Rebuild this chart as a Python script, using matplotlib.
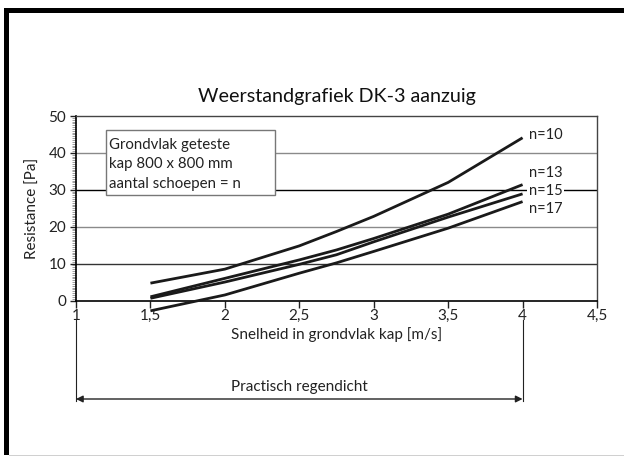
import matplotlib
matplotlib.use("Agg")
import matplotlib.pyplot as plt
from matplotlib.patches import Rectangle
from matplotlib.ticker import MultipleLocator

plt.rcParams['font.family'] = ['Lato', 'DejaVu Sans']

# Data
speed = [1.5, 2.0, 2.5, 2.75, 3.0, 3.5, 4.0]
n10 = [4.7, 8.5, 14.8, 18.7, 22.8, 32.0, 44.1]
n13 = [1.0, 6.0, 11.0, 13.7, 16.8, 23.4, 31.4]
n15 = [0.6, 5.0, 9.8, 12.4, 15.9, 22.6, 28.9]
n17 = [-2.8, 1.5, 7.4, 10.2, 13.3, 19.6, 26.8]
series = [("n=10", n10), ("n=13", n13), ("n=15", n15), ("n=17", n17)]
label_y = [44.8, 34.6, 29.7, 24.8]

x_ticks = [1, 1.5, 2, 2.5, 3, 3.5, 4, 4.5]
x_labels = ["1", "1,5", "2", "2,5", "3", "3,5", "4", "4,5"]
y_ticks = [0, 10, 20, 30, 40, 50]
grid_colors = {10: '#333333', 20: '#8a8a8a', 30: '#000000', 40: '#8a8a8a'}

title = "Weerstandgrafiek DK-3 aanzuig"
box_lines = ["Grondvlak geteste", "kap 800 x 800 mm", "aantal schoepen = n"]

W, H = 624, 457
fig = plt.figure(figsize=(W / 100, H / 100), dpi=100)
fig.patch.set_facecolor('white')

# frame of the picture
fig.add_artist(Rectangle((4 / W, 1 - 13 / H), 1, 5 / H, transform=fig.transFigure,
                         facecolor='black', edgecolor='none'))
fig.add_artist(Rectangle((4 / W, 1 - 455 / H), 5 / W, 447 / H, transform=fig.transFigure,
                         facecolor='black', edgecolor='none'))
fig.add_artist(Rectangle((9 / W, 1 - 456 / H), 1, 1.2 / H, transform=fig.transFigure,
                         facecolor='#d0d0d0', edgecolor='none'))

left, right, top, bottom = 76, 597, 116, 300.5
ax = fig.add_axes([left / W, 1 - bottom / H, (right - left) / W, (bottom - top) / H])
ax.set_xlim(1, 4.5)
ax.set_ylim(0, 50)

for y, c in grid_colors.items():
    ax.axhline(y, color=c, lw=1.0, zorder=1)

for (name, vals), ly in zip(series, label_y):
    ax.plot(speed, vals, color='#1a1a1a', lw=2.0, zorder=4, clip_on=False,
            solid_capstyle='butt')
    ax.text(4.04, ly, name, fontsize=10.5, va='center', ha='left', color='#222222',
            zorder=5, bbox=dict(facecolor='white', edgecolor='none', pad=1.0))

# info box
ax.add_patch(Rectangle((1.20, 28.6), 1.14, 17.6, facecolor='white', edgecolor='#777777',
                       lw=1.0, zorder=3))
for txt, yy in zip(box_lines, [42.1, 37.0, 31.7]):
    ax.text(1.225, yy, txt, fontsize=10.8, va='center', ha='left', color='#222222', zorder=5)

ax.set_xticks(x_ticks)
ax.set_xticklabels(x_labels)
ax.set_yticks(y_ticks)
ax.yaxis.set_minor_locator(MultipleLocator(0.5))
ax.tick_params(axis='x', direction='out', length=5, width=1, labelsize=11, pad=1,
               colors='#222222')
ax.tick_params(axis='y', which='major', direction='out', length=4, width=1,
               labelsize=11, pad=3, colors='#222222')
ax.tick_params(axis='y', which='minor', direction='out', length=3, width=0.5,
               color='#777777')

for s in ['left', 'bottom']:
    ax.spines[s].set_color('black')
    ax.spines[s].set_linewidth(1.2)
for s in ['top', 'right']:
    ax.spines[s].set_color('#444444')
    ax.spines[s].set_linewidth(1.0)

ax.set_xlabel("Snelheid in grondvlak kap [m/s]", fontsize=11, color='#222222', labelpad=3)
ax.set_ylabel("Resistance [Pa]", fontsize=11, color='#222222', labelpad=6)
ax.set_title(title, fontsize=14.2, color='#111111', pad=10)

# range annotation below the axis
def py(pix):
    return (bottom - pix) / ((bottom - top) / 50)

for xv in [1, 4]:
    ax.plot([xv, xv], [py(320), py(401)], color='#222222', lw=0.8, clip_on=False)
ax.annotate("", xy=(1.0, py(399)), xytext=(4.0, py(399)), annotation_clip=False,
            arrowprops=dict(arrowstyle='<|-|>', color='#222222', lw=1.0,
                            mutation_scale=10, shrinkA=0, shrinkB=0))
ax.text(2.5, py(387), "Practisch regendicht", fontsize=11, ha='center', va='center',
        color='#222222')

fig.savefig("out.png", dpi=100)
